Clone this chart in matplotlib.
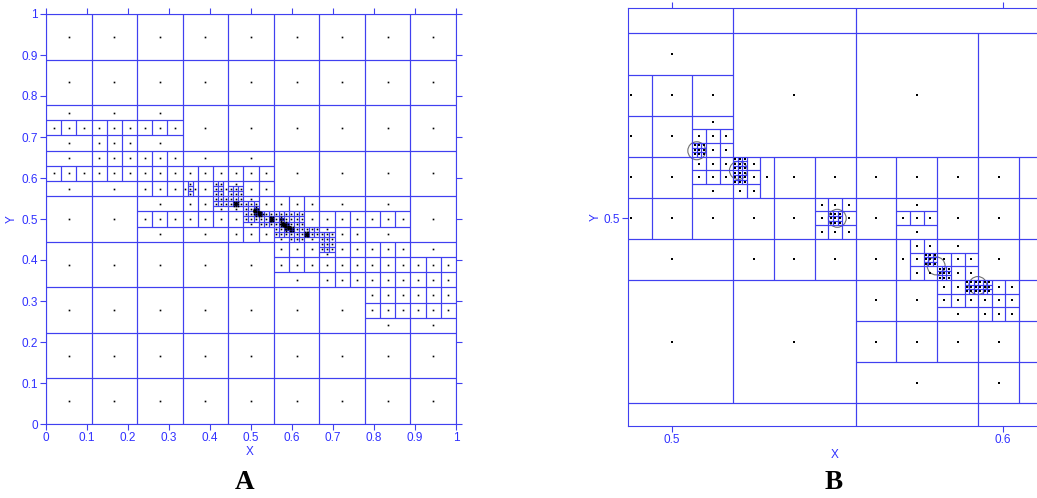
import matplotlib
matplotlib.use("Agg")
import matplotlib.pyplot as plt
from matplotlib.collections import LineCollection
from matplotlib.patches import Circle
import numpy as np

# adaptive mesh, one list of blocks per refinement level
# level L cell size = 1 / (9 * 3**L); block = (x0, x1, y0, y1, cell_w, cell_h) in those units
level0_blocks = [(0, 9, 0, 9, 1, 1)]
level1_blocks = [
    (0, 9, 20, 21, 3, 1), (0, 9, 19, 20, 1, 1),
    (0, 3, 18, 19, 3, 1), (3, 6, 18, 19, 1, 1), (6, 9, 18, 19, 3, 1),
    (0, 3, 17, 18, 3, 1), (3, 9, 17, 18, 1, 1), (9, 15, 17, 18, 3, 1),
    (0, 15, 16, 17, 1, 1),
    (0, 6, 15, 16, 3, 1), (6, 15, 15, 16, 1, 1),
    (6, 9, 14, 15, 3, 1), (9, 18, 14, 15, 1, 1), (18, 24, 14, 15, 3, 1),
    (6, 24, 13, 14, 1, 1),
    (6, 12, 12, 13, 3, 1), (12, 21, 12, 13, 1, 1), (21, 24, 12, 13, 3, 1),
    (15, 24, 11, 12, 1, 1), (24, 27, 11, 12, 3, 1),
    (15, 27, 10, 11, 1, 1),
    (15, 18, 9, 10, 3, 1), (18, 27, 9, 10, 1, 1),
    (21, 27, 7, 9, 1, 1), (21, 27, 6, 7, 3, 1),
]
level2_blocks = [
    (27, 28, 45, 48, 1, 3), (28, 29, 45, 48, 1, 1), (29, 30, 45, 48, 1, 3),
    (33, 35, 45, 48, 1, 1), (35, 36, 45, 48, 1, 3),
    (36, 39, 47, 48, 3, 1), (36, 39, 45, 47, 1, 1),
    (33, 36, 43, 45, 1, 1), (33, 36, 42, 43, 3, 1),
    (36, 39, 43, 45, 1, 1), (36, 39, 42, 43, 3, 1),
    (39, 42, 44, 45, 3, 1), (39, 42, 42, 44, 1, 1),
    (39, 42, 40, 42, 1, 1), (39, 42, 39, 40, 3, 1),
    (42, 51, 39, 42, 1, 1),
    (45, 48, 37, 39, 1, 1), (45, 48, 36, 37, 3, 1),
    (48, 51, 36, 39, 1, 1),
    (51, 54, 37, 39, 1, 1), (51, 54, 36, 37, 3, 1),
    (54, 57, 38, 39, 3, 1), (54, 57, 36, 38, 1, 1),
    (54, 57, 34, 36, 1, 1), (54, 57, 33, 34, 3, 1),
]
level3_blocks = [
    (123, 126, 128, 129, 3, 1), (123, 126, 126, 128, 1, 1),
    (123, 126, 124, 126, 1, 1), (123, 126, 123, 124, 3, 1),
    (126, 128, 123, 126, 1, 1), (128, 129, 123, 126, 1, 3),
    (132, 135, 120, 123, 1, 1),
    (138, 141, 122, 123, 3, 1), (138, 141, 121, 122, 1, 1), (138, 141, 120, 121, 3, 1),
    (138, 139, 117, 120, 1, 3), (139, 141, 117, 120, 1, 1),
    (141, 144, 119, 120, 3, 1), (141, 144, 117, 119, 1, 1),
    (141, 144, 115, 117, 1, 1), (141, 144, 114, 115, 3, 1),
    (144, 147, 114, 117, 1, 1),
    (111, 114, 129, 132, 1, 1),
    (153, 156, 111, 114, 1, 1),
]
level4_blocks = [
    (369, 372, 378, 381, 1, 1),
    (378, 381, 372, 378, 1, 1),
    (399, 402, 363, 366, 1, 1),
    (420, 423, 354, 357, 1, 1),
    (423, 426, 351, 354, 1, 1),
    (429, 435, 348, 351, 1, 1),
    (336, 339, 390, 393, 1, 1),
    (462, 465, 336, 339, 1, 1),
]
all_levels = [level0_blocks, level1_blocks, level2_blocks, level3_blocks, level4_blocks]

# sensor circles shown in the zoomed panel
circle_x = [0.5075, 0.5201, 0.5500, 0.5799, 0.5925]
circle_y = [0.5203, 0.5144, 0.5000, 0.4857, 0.4798]
circle_r = 0.0027

a_ticks = [0, 0.1, 0.2, 0.3, 0.4, 0.5, 0.6, 0.7, 0.8, 0.9, 1]
a_tick_labels = ['0', '0.1', '0.2', '0.3', '0.4', '0.5', '0.6', '0.7', '0.8', '0.9', '1']
b_ticks = [0.5, 0.6]
b_tick_labels = ['0.5', '0.6']
b_xlim = (0.4868, 0.6104)
b_ylim = (0.4376, 0.5631)

BLUE = '#4040f0'
TXT = '#3030ff'


def build_leaves(levels):
    cells, ext = [], []
    for lev, blocks in enumerate(levels):
        s = 1.0 / (9 * 3 ** lev)
        for x0, x1, y0, y1, w, h in blocks:
            ext.append((lev, x0 * s, x1 * s, y0 * s, y1 * s))
            for i in range(x0, x1, w):
                for j in range(y0, y1, h):
                    cells.append((lev, i * s, (i + w) * s, j * s, (j + h) * s))
    cells, ext = np.array(cells), np.array(ext)
    eps = 1e-9
    keep = []
    for c in cells:
        f = ext[ext[:, 0] > c[0]]
        ov = (f[:, 1] < c[2] - eps) & (f[:, 2] > c[1] + eps) & (f[:, 3] < c[4] - eps) & (f[:, 4] > c[3] + eps)
        keep.append(not ov.any())
    return cells[np.array(keep)]


leaves = build_leaves(all_levels)


def draw_mesh(ax, dot_size):
    segs = []
    for _, x0, x1, y0, y1 in leaves:
        segs += [[(x0, y0), (x1, y0)], [(x1, y0), (x1, y1)], [(x1, y1), (x0, y1)], [(x0, y1), (x0, y0)]]
    ax.add_collection(LineCollection(segs, colors=BLUE, linewidths=0.8))
    cx = (leaves[:, 1] + leaves[:, 2]) / 2
    cy = (leaves[:, 3] + leaves[:, 4]) / 2
    ax.plot(cx, cy, 's', ms=dot_size, mew=0, color='black')


def style(ax):
    for sp in ax.spines.values():
        sp.set_color(BLUE)
        sp.set_linewidth(0.8)
    ax.tick_params(direction='out', length=4, width=0.8, colors=BLUE, labelcolor=TXT,
                   labelsize=8.5, top=True, right=True, pad=2)
    for lab in ax.get_xticklabels() + ax.get_yticklabels():
        lab.set_family('Liberation Sans')


fig = plt.figure(figsize=(10.37, 4.98), dpi=100)

ax_a = fig.add_axes([46 / 1037, 74 / 498, 410 / 1037, 410 / 498])
draw_mesh(ax_a, 1.2)
ax_a.set_xlim(0, 1)
ax_a.set_ylim(0, 1)
ax_a.set_xticks(a_ticks)
ax_a.set_xticklabels(a_tick_labels)
ax_a.set_yticks(a_ticks)
ax_a.set_yticklabels(a_tick_labels)
style(ax_a)

ax_b = fig.add_axes([628.3 / 1037, 72 / 498, 408.7 / 1037, 417.7 / 498])
draw_mesh(ax_b, 1.6)
for x, y in zip(circle_x, circle_y):
    ax_b.add_patch(Circle((x, y), circle_r, fill=False, ec='#707070', lw=0.8))
ax_b.set_xlim(*b_xlim)
ax_b.set_ylim(*b_ylim)
ax_b.set_xticks(b_ticks)
ax_b.set_xticklabels(b_tick_labels)
ax_b.set_yticks([0.5])
ax_b.set_yticklabels(['0.5'])
style(ax_b)
ax_b.spines['right'].set_visible(False)

lbl = dict(color=TXT, fontsize=8.5, family='Liberation Sans', ha='center', va='center')
fig.text(250 / 1037, 1 - 452 / 498, 'X', **lbl)
fig.text(11.5 / 1037, 1 - 219 / 498, 'Y', rotation=90, **lbl)
fig.text(835 / 1037, 1 - 455 / 498, 'X', **lbl)
fig.text(596 / 1037, 1 - 217 / 498, 'Y', rotation=90, **lbl)

pan = dict(fontsize=19.5, fontweight='bold', family='Liberation Serif', ha='center', va='center')
fig.text(245 / 1037, 1 - 482 / 498, 'A', **pan)
fig.text(834 / 1037, 1 - 482 / 498, 'B', **pan)

fig.savefig('out.png', dpi=100)
